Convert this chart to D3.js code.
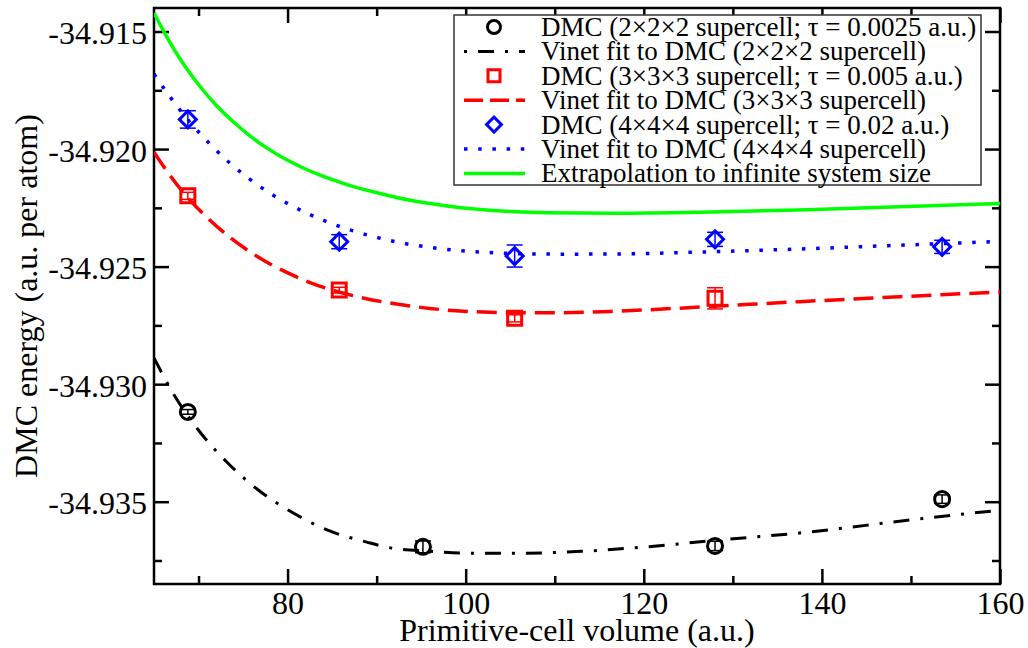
<!DOCTYPE html>
<html>
<head>
<meta charset="utf-8">
<script src="https://cdn.jsdelivr.net/npm/d3@7"></script>
<style>
  html, body { margin: 0; padding: 0; background: #fff; }
  svg { display: block; }
  text { font-family: "Liberation Serif", "Times New Roman", serif; fill: #000; }
</style>
</head>
<body>
<svg id="chart" width="1028" height="648"></svg>
<script>
// ---------------- data ----------------
const xTicksMajor = [80, 100, 120, 140, 160];
const xTicksMinor = [70, 90, 110, 130, 150];
const yTicksMajor = [-34.935, -34.930, -34.925, -34.920, -34.915];
const yTicksMinor = [-34.9375, -34.9325, -34.9275, -34.9225, -34.9175];

// DMC 2x2x2 supercell
const vol2 = [68.8, 95.2, 128.0, 153.5];
const e2 = [-34.93118, -34.93692, -34.93688, -34.93489];
const err2 = [0.00010, 0.00025, 0.00020, 0.00018];

// DMC 3x3x3 supercell
const vol3 = [68.8, 85.8, 105.5, 128.0];
const e3 = [-34.92199, -34.92600, -34.92720, -34.92635];
const err3 = [0.00015, 0.00012, 0.00015, 0.00045];

// DMC 4x4x4 supercell
const vol4 = [68.8, 85.8, 105.5, 128.0, 153.5];
const e4 = [-34.91874, -34.92394, -34.92455, -34.92384, -34.92416];
const err4 = [0.00037, 0.00030, 0.00047, 0.00030, 0.00028];

// Vinet fits
const fitVol2 = [65, 67.4, 70, 73.2, 76.6, 80.5, 84.5, 88.9, 91.8, 96, 100, 106, 113, 119.6, 128.2, 138.3, 149.6, 160];
const fitE2 = [-34.92889, -34.93055, -34.93196, -34.93332, -34.93447, -34.93545, -34.93621, -34.93672, -34.93698, -34.93711, -34.93719, -34.93719, -34.93711, -34.93694, -34.93664, -34.93630, -34.93579, -34.93536];

const fitVol3 = [65, 66.80, 69.04, 71.29, 73.53, 75.78, 78.03, 80.27, 82.52, 84.76, 87.01, 89.82, 92.63, 95.99, 99.36, 102.73, 106.10, 110.59, 117.33, 126.31, 137.54, 148.77, 160];
const fitE3 = [-34.92013, -34.92113, -34.92217, -34.92303, -34.92376, -34.92437, -34.92489, -34.92531, -34.92568, -34.92597, -34.92620, -34.92644, -34.92661, -34.92678, -34.92689, -34.92694, -34.92696, -34.92696, -34.92689, -34.92672, -34.92649, -34.92628, -34.92608];

const fitVol4 = [65, 66.80, 69.04, 71.29, 73.53, 75.78, 78.03, 80.27, 82.52, 84.76, 87.01, 89.82, 92.63, 95.99, 99.36, 102.73, 106.10, 110.59, 117.33, 126.31, 137.54, 148.77, 160];
const fitE4 = [-34.91681, -34.91778, -34.91886, -34.91979, -34.92060, -34.92129, -34.92188, -34.92237, -34.92279, -34.92314, -34.92344, -34.92374, -34.92398, -34.92418, -34.92432, -34.92440, -34.92445, -34.92447, -34.92446, -34.92438, -34.92425, -34.92409, -34.92393];

// Extrapolation to infinite system size
const extVol = [65, 66.80, 68.48, 70.17, 72.07, 73.87, 75.78, 77.69, 79.49, 81.40, 83.30, 86.67, 90.38, 94.08, 97.90, 101.61, 105.31, 109.13, 116.54, 126.31, 138.33, 160];
const extE = [-34.91421, -34.91547, -34.91648, -34.91734, -34.91817, -34.91883, -34.91944, -34.91996, -34.92037, -34.92074, -34.92106, -34.92151, -34.92189, -34.92220, -34.92242, -34.92257, -34.92266, -34.92271, -34.92273, -34.92269, -34.92258, -34.92232];

const legendLabels = [
  "DMC (2\u00d72\u00d72 supercell; \u03c4 = 0.0025 a.u.)",
  "Vinet fit to DMC (2\u00d72\u00d72 supercell)",
  "DMC (3\u00d73\u00d73 supercell; \u03c4 = 0.005 a.u.)",
  "Vinet fit to DMC (3\u00d73\u00d73 supercell)",
  "DMC (4\u00d74\u00d74 supercell; \u03c4 = 0.02 a.u.)",
  "Vinet fit to DMC (4\u00d74\u00d74 supercell)",
  "Extrapolation to infinite system size"
];
const xTitle = "Primitive-cell volume (a.u.)";
const yTitle = "DMC energy (a.u. per atom)";

// ---------------- layout ----------------
const L = 154, R = 1000, T = 8, B = 584;
const svg = d3.select("#chart");
const x = d3.scaleLinear().domain([65, 160]).range([L, R]);
const y = d3.scaleLinear().domain([-34.9385, -34.914]).range([B, T]);

const AX = 2.5;
const MAJ = 15, MIN = 8;

svg.append("defs").append("clipPath").attr("id", "clip")
  .append("rect").attr("x", L).attr("y", T).attr("width", R - L).attr("height", B - T);

function styleAxis(g) {
  g.select(".domain").remove();
  g.selectAll(".tick line").attr("stroke", "#000").attr("stroke-width", AX);
}

// bottom
const gxb = svg.append("g").attr("transform", `translate(0,${B})`)
  .call(d3.axisBottom(x).tickValues(xTicksMajor).tickSize(-MAJ).tickFormat(d3.format("d")));
styleAxis(gxb);
gxb.selectAll("text").attr("dy", null).attr("y", 30).attr("font-size", 32)
  .attr("font-family", "Liberation Serif").attr("fill", "#000");
styleAxis(svg.append("g").attr("transform", `translate(0,${B})`)
  .call(d3.axisBottom(x).tickValues(xTicksMinor).tickSize(-MIN).tickFormat("")));
// top
styleAxis(svg.append("g").attr("transform", `translate(0,${T})`)
  .call(d3.axisTop(x).tickValues(xTicksMajor).tickSize(-MAJ).tickFormat("")));
styleAxis(svg.append("g").attr("transform", `translate(0,${T})`)
  .call(d3.axisTop(x).tickValues(xTicksMinor).tickSize(-MIN).tickFormat("")));
// left
const gyl = svg.append("g").attr("transform", `translate(${L},0)`)
  .call(d3.axisLeft(y).tickValues(yTicksMajor).tickSize(-MAJ).tickFormat(d => d.toFixed(3)));
styleAxis(gyl);
gyl.selectAll("text").attr("dy", null).attr("x", -7).attr("y", 12).attr("font-size", 32)
  .attr("font-family", "Liberation Serif").attr("fill", "#000");
styleAxis(svg.append("g").attr("transform", `translate(${L},0)`)
  .call(d3.axisLeft(y).tickValues(yTicksMinor).tickSize(-MIN).tickFormat("")));
// right
styleAxis(svg.append("g").attr("transform", `translate(${R},0)`)
  .call(d3.axisRight(y).tickValues(yTicksMajor).tickSize(-MAJ).tickFormat("")));
styleAxis(svg.append("g").attr("transform", `translate(${R},0)`)
  .call(d3.axisRight(y).tickValues(yTicksMinor).tickSize(-MIN).tickFormat("")));

// frame
svg.append("rect").attr("x", L).attr("y", T).attr("width", R - L).attr("height", B - T)
  .attr("fill", "none").attr("stroke", "#000").attr("stroke-width", AX);

// titles
svg.append("text").attr("x", (L + R) / 2).attr("y", 641).attr("text-anchor", "middle")
  .attr("font-size", 32).text(xTitle);
svg.append("text").attr("transform", `translate(37,${(T + B) / 2}) rotate(-90)`)
  .attr("text-anchor", "middle").attr("font-size", 32).text(yTitle);

// ---------------- curves ----------------
const plot = svg.append("g").attr("clip-path", "url(#clip)");
const line = d3.line().x(d => x(d[0])).y(d => y(d[1])).curve(d3.curveMonotoneX);

const styles = {
  black: { color: "#000000", dash: "16,11,3,11", width: 3 },
  red:   { color: "#ff0000", dash: "20,9", width: 3.5 },
  blue:  { color: "#0000ff", dash: "3.5,10.7", width: 3.5 },
  green: { color: "#00ff00", dash: null, width: 3.5 }
};

function drawFit(xs, ys, st) {
  plot.append("path").datum(d3.zip(xs, ys)).attr("d", line)
    .attr("fill", "none").attr("stroke", st.color).attr("stroke-width", st.width)
    .attr("stroke-dasharray", st.dash);
}
drawFit(extVol, extE, styles.green);
drawFit(fitVol4, fitE4, styles.blue);
drawFit(fitVol3, fitE3, styles.red);
drawFit(fitVol2, fitE2, styles.black);

// ---------------- points ----------------
function drawPoints(xs, ys, es, color, symType, size, rot) {
  const g = plot.append("g");
  const data = d3.zip(xs, ys, es);
  const eb = g.selectAll(".eb").data(data).enter().append("g");
  eb.append("line").attr("x1", d => x(d[0])).attr("x2", d => x(d[0]))
    .attr("y1", d => y(d[1] - d[2])).attr("y2", d => y(d[1] + d[2]))
    .attr("stroke", color).attr("stroke-width", 1.5);
  [1, -1].forEach(s => {
    eb.append("line").attr("x1", d => x(d[0]) - 8).attr("x2", d => x(d[0]) + 8)
      .attr("y1", d => y(d[1] + s * d[2])).attr("y2", d => y(d[1] + s * d[2]))
      .attr("stroke", color).attr("stroke-width", 1.5);
  });
  g.selectAll(".sym").data(data).enter().append("path")
    .attr("d", d3.symbol().type(symType).size(size))
    .attr("transform", d => `translate(${x(d[0])},${y(d[1])}) rotate(${rot})`)
    .attr("fill", "none").attr("stroke", color).attr("stroke-width", 3);
}
drawPoints(vol2, e2, err2, "#000000", d3.symbolCircle, 177, 0);
drawPoints(vol3, e3, err3, "#ff0000", d3.symbolSquare, 196, 0);
drawPoints(vol4, e4, err4, "#0000ff", d3.symbolSquare, 144, 45);

// ---------------- legend ----------------
const lg = svg.append("g");
lg.append("rect").attr("x", 454).attr("y", 15).attr("width", 527).attr("height", 170)
  .attr("fill", "#fff").attr("stroke", "#333").attr("stroke-width", 1.5);
const rowY = i => 27 + i * 24.4;
const legendItems = [
  { type: "sym", sym: d3.symbolCircle, size: 133, rot: 0, color: "#000000" },
  { type: "line", st: styles.black, dash: "3,11,16,11" },
  { type: "sym", sym: d3.symbolSquare, size: 144, rot: 0, color: "#ff0000" },
  { type: "line", st: styles.red, dash: "19,7" },
  { type: "sym", sym: d3.symbolSquare, size: 110, rot: 45, color: "#0000ff" },
  { type: "line", st: styles.blue, dash: "3.5,10.7" },
  { type: "line", st: styles.green, dash: null }
];
legendItems.forEach((it, i) => {
  const cy = rowY(i);
  if (it.type === "sym") {
    lg.append("path").attr("d", d3.symbol().type(it.sym).size(it.size)())
      .attr("transform", `translate(494,${cy}) rotate(${it.rot})`)
      .attr("fill", "none").attr("stroke", it.color).attr("stroke-width", 3);
  } else {
    lg.append("line").attr("x1", 464).attr("x2", 525).attr("y1", cy).attr("y2", cy)
      .attr("stroke", it.st.color).attr("stroke-width", it.st.width)
      .attr("stroke-dasharray", it.dash);
  }
  lg.append("text").attr("x", 541).attr("y", cy + 9).attr("font-size", 27).text(legendLabels[i]);
});
</script>
</body>
</html>
